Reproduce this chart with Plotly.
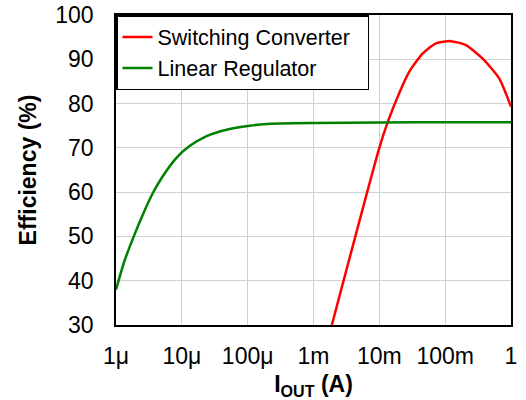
import plotly.graph_objects as go

# Data (current in A, efficiency in %)
lin_current = [1e-6, 1.34e-6, 1.91e-6, 2.55e-6, 3.63e-6, 5.13e-6, 8.22e-6, 1.31e-5,
               2.34e-5, 4.79e-5, 1.07e-4, 1.95e-4, 1e-3, 1e-2, 1e-1, 1.0]
lin_eff = [38.0, 44.4, 50.4, 54.9, 59.8, 63.6, 67.7, 70.4,
           72.6, 74.1, 75.0, 75.4, 75.6, 75.7, 75.8, 75.8]

sw_current = [1.9e-3, 1e-2, 1.34e-2, 2.01e-2, 2.85e-2, 4.54e-2, 7.24e-2, 0.122,
              0.206, 0.368, 0.661, 1.0]
sw_eff = [30.0, 70.0, 75.8, 82.4, 87.2, 91.3, 93.6, 94.1,
          93.2, 90.2, 85.7, 79.3]

x_tickvals = [1e-6, 1e-5, 1e-4, 1e-3, 1e-2, 1e-1, 1]
x_ticktext = ["1μ", "10μ", "100μ", "1m", "10m", "100m", "1"]
y_tickvals = [30, 40, 50, 60, 70, 80, 90, 100]

fig = go.Figure()
fig.add_trace(go.Scatter(x=sw_current, y=sw_eff, mode="lines",
                         name="Switching Converter\u00a0\u00a0",
                         line=dict(color="#ff0000", width=2.5, shape="spline", smoothing=0.6)))
fig.add_trace(go.Scatter(x=lin_current, y=lin_eff, mode="lines", name="Linear Regulator",
                         line=dict(color="#008000", width=2.5, shape="spline", smoothing=0.6)))

fig.update_layout(
    width=526, height=400,
    margin=dict(l=116, r=15, t=15, b=75),
    paper_bgcolor="white", plot_bgcolor="white",
    font=dict(family="Liberation Sans, Arial, sans-serif", color="black", size=23),
    showlegend=True,
    legend=dict(x=0, y=1, xanchor="left", yanchor="top",
                bgcolor="white", bordercolor="black", borderwidth=1.5,
                font=dict(size=21.5), tracegroupgap=0, itemwidth=30),
    xaxis=dict(type="log", range=[-6, 0], tickvals=x_tickvals, ticktext=x_ticktext,
               showgrid=True, gridcolor="#d0d0d0", gridwidth=1,
               showline=True, linecolor="black", linewidth=1.5, mirror=True,
               ticks="", ticklabelstandoff=10, automargin=False,
               title=dict(text="<b>I<sub>OUT</sub> (A)</b>", font=dict(size=23), standoff=12)),
    yaxis=dict(range=[30, 100], tickvals=y_tickvals,
               showgrid=True, gridcolor="#d0d0d0", gridwidth=1,
               showline=True, linecolor="black", linewidth=1.5, mirror=True,
               ticks="", ticklabelstandoff=16, automargin=False,
               title=dict(text="<b>Efficiency (%)</b>", font=dict(size=23), standoff=12)),
)

fig.write_html("out.html", config={"displayModeBar": False},
               post_script="document.body.style.margin='0';document.body.style.padding='0';")
